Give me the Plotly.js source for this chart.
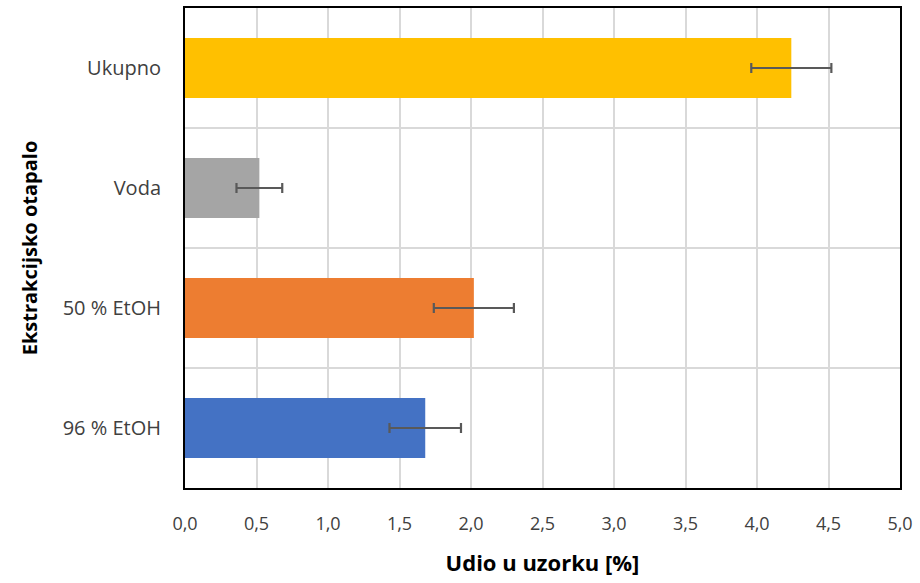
<!DOCTYPE html>
<html>
<head>
<meta charset="utf-8">
<script src="https://cdn.plot.ly/plotly-3.0.1.min.js"></script>
<style>html,body{margin:0;padding:0;background:#fff;}#chart{width:920px;height:583px;}</style>
</head>
<body>
<div id="chart"></div>
<script>
const categories = ["96 % EtOH", "50 % EtOH", "Voda", "Ukupno"];
const values = [1.68, 2.02, 0.52, 4.24];
const errors = [0.25, 0.28, 0.16, 0.28];
const barColors = ["#4472C4", "#ED7D31", "#A5A5A5", "#FFC000"];
const xTickVals = [0, 0.5, 1, 1.5, 2, 2.5, 3, 3.5, 4, 4.5, 5];

const trace = {
  type: "bar",
  orientation: "h",
  y: categories,
  x: values,
  width: 0.5,
  marker: {color: barColors, line: {width: 0}},
  error_x: {type: "data", array: errors, visible: true, color: "#595959", thickness: 2.2, width: 5},
  hoverinfo: "none"
};

const font = "'Open Sans', Lato, sans-serif";
const layout = {
  width: 920, height: 583,
  margin: {l: 185, r: 20, t: 8, b: 95},
  paper_bgcolor: "#fff", plot_bgcolor: "#fff",
  separators: ",.",
  font: {family: font, size: 18, color: "#404040"},
  showlegend: false,
  xaxis: {
    range: [0, 5],
    tickvals: xTickVals,
    tickformat: ".1f",
    showgrid: true, gridcolor: "#D9D9D9", gridwidth: 2,
    zeroline: false,
    showline: true, linecolor: "#000", linewidth: 2, mirror: true,
    ticks: "", ticklabelstandoff: 18,
    tickfont: {family: font, size: 18, color: "#404040"},
    title: {text: "<b>Udio u uzorku [%]</b>", font: {family: font, size: 22, color: "#000"}, standoff: 22}
  },
  yaxis: {
    type: "category",
    range: [-0.5, 3.5],
    tickson: "boundaries",
    showgrid: true, gridcolor: "#D9D9D9", gridwidth: 2,
    showline: true, linecolor: "#000", linewidth: 2, mirror: true,
    ticks: "", ticklabelstandoff: 18,
    tickfont: {family: font, size: 20, color: "#404040"},
    title: {text: "<b>Ekstrakcijsko otapalo</b>", font: {family: font, size: 20, color: "#000"}, standoff: 20}
  }
};

Plotly.newPlot("chart", [trace], layout, {displayModeBar: false, staticPlot: true});
</script>
</body>
</html>
